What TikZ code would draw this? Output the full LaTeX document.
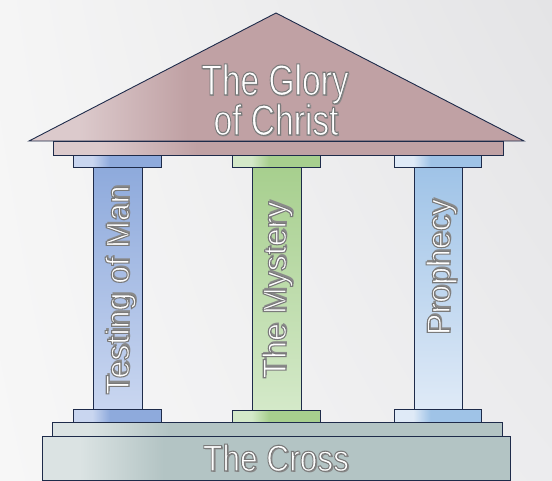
\documentclass[tikz,border=0pt]{standalone}
\usepackage{fontspec}
\usepackage{graphicx}
\usetikzlibrary{shadings}
\setmainfont{Liberation Sans}
\definecolor{edgeline}{HTML}{1E2B4A}
\definecolor{txtshadow}{HTML}{8A8A8A}
\definecolor{roofL}{HTML}{DCCACC}
\definecolor{roofR}{HTML}{C0A1A4}
\definecolor{cbL}{HTML}{C9D6F0}
\definecolor{cbR}{HTML}{8EAADC}
\definecolor{cgL}{HTML}{D4E9C9}
\definecolor{cgR}{HTML}{A7CF8E}
\definecolor{clL}{HTML}{DFEAF7}
\definecolor{clR}{HTML}{9FC3E7}
\definecolor{baseL}{HTML}{DBE3E3}
\definecolor{baseR}{HTML}{B3C4C4}
\definecolor{bgUL}{HTML}{F5F5F5}
\definecolor{bgUR}{HTML}{E4E4E6}
\definecolor{bgLL}{HTML}{F7F7F7}
\definecolor{bgLR}{HTML}{ECECEE}
\pgfdeclarehorizontalshading{roofsh}{100bp}{color(0bp)=(roofL); color(25bp)=(roofL); color(30bp)=(roofL); color(41bp)=(roofR); color(100bp)=(roofR)}
\pgfdeclarehorizontalshading{capblue}{100bp}{color(0bp)=(cbL); color(25bp)=(cbL); color(36bp)=(cbL); color(46bp)=(cbR); color(100bp)=(cbR)}
\pgfdeclarehorizontalshading{capgreen}{100bp}{color(0bp)=(cgL); color(25bp)=(cgL); color(36bp)=(cgL); color(46bp)=(cgR); color(100bp)=(cgR)}
\pgfdeclarehorizontalshading{caplight}{100bp}{color(0bp)=(clL); color(25bp)=(clL); color(36bp)=(clL); color(46bp)=(clR); color(100bp)=(clR)}
\pgfdeclarehorizontalshading{basesh}{100bp}{color(0bp)=(baseL); color(25bp)=(baseL); color(29bp)=(baseL); color(38bp)=(baseR); color(100bp)=(baseR)}
\newcommand\embtxt[1]{\leavevmode
  \rlap{\kern1.8pt\raisebox{-1.8pt}{\textcolor{txtshadow}{#1}}}%
  \textcolor{white}{\special{pdf:code 2 Tr 1.1 w 0.48 0.48 0.48 RG}#1\special{pdf:code 0 Tr}}}
\tikzset{
  part/.style={draw=edgeline, line width=0.9pt},
  titletxt/.style={inner sep=0pt, anchor=base, font=\fontsize{43}{43}\selectfont},
  shafttxt/.style={inner sep=0pt, anchor=base, rotate=90, font=\fontsize{33}{33}\selectfont},
  crosstxt/.style={inner sep=0pt, anchor=base, font=\fontsize{37}{37}\selectfont}
}
\begin{document}
\begin{tikzpicture}[x=1pt,y=-1pt]
\useasboundingbox (0,0) rectangle (552,480);
% background
\shade[upper left=bgUL, upper right=bgUR, lower left=bgLL, lower right=bgLR] (0,0) rectangle (552,480);
% roof
\draw[part, shading=roofsh] (29,141) -- (276,13) -- (524,141) -- cycle;
\draw[part, shading=roofsh] (53,141) rectangle (503,155);
% top capitals
\draw[part, shading=capblue] (73,155) rectangle (161,167);
\draw[part, shading=capgreen] (232,155) rectangle (320,167);
\draw[part, shading=caplight] (394,155) rectangle (481,167);
% shafts
\draw[part, top color=cbR, bottom color=cbL] (93,167) rectangle (142,409);
\draw[part, top color=cgR, bottom color=cgL] (252,167) rectangle (301,410);
\draw[part, top color=clR, bottom color=clL] (414,167) rectangle (462,409);
% bottom capitals
\draw[part, shading=capblue] (73,409) rectangle (161,422);
\draw[part, shading=capgreen] (232,410) rectangle (320,422);
\draw[part, shading=caplight] (394,409) rectangle (481,422);
% plinth and base
\draw[part, shading=basesh] (52,422) rectangle (502,436);
\draw[part, shading=basesh] (42,436) rectangle (510,480);
% texts
\node[titletxt] (glory1) at (275,95) {\scalebox{0.78}[1]{\embtxt{The Glory}}};
\node[titletxt] (glory2) at (276,135) {\scalebox{0.78}[1]{\embtxt{of Christ}}};
\node[shafttxt] (testing) at (129,290) {\scalebox{0.975}[1]{\embtxt{Testing of Man}}};
\node[shafttxt] (mystery) at (286,290) {\scalebox{0.975}[1]{\embtxt{The Mystery}}};
\node[shafttxt] (prophecy) at (450,267) {\scalebox{0.975}[1]{\embtxt{Prophecy}}};
\node[crosstxt] (cross) at (276,471) {\scalebox{0.855}[1]{\embtxt{The Cross}}};
\end{tikzpicture}
\end{document}
